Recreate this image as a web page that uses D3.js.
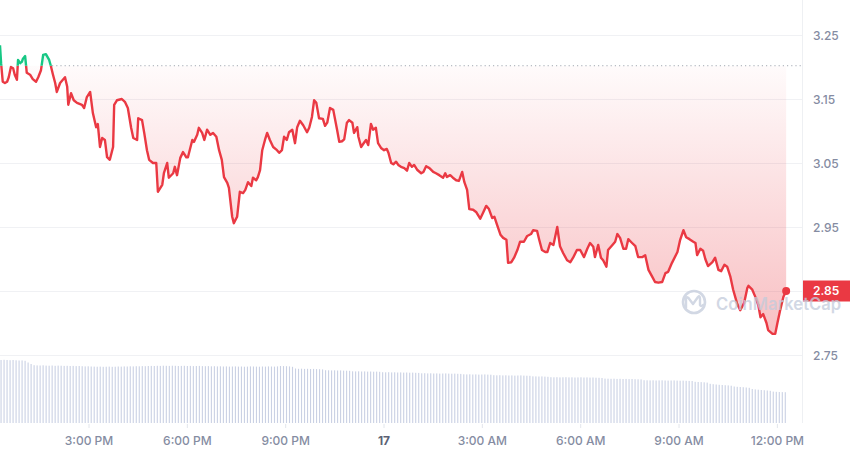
<!DOCTYPE html>
<html>
<head>
<meta charset="utf-8">
<script src="https://cdn.jsdelivr.net/npm/d3@7"></script>
<style>
  html, body { margin: 0; padding: 0; background: #fff; }
  svg { display: block; font-family: Inter, "Noto Sans", sans-serif; }
</style>
</head>
<body>
<svg id="chart" width="850" height="453"></svg>
<script>
// ---------------- DATA ----------------
// minutes since series start (16th, 12:18 PM)
const priceMinutes = [0,2,5,9,13,16,20,24,27,31,33,37,40,42,46,49,55,60,66,70,75,79,84,90,93,97,101,104,110,119,123,125,130,135,141,150,154,159,165,170,176,179,183,187,192,196,201,207,209,214,223,229,234,240,244,251,253,260,264,269,273,280,286,289,297,300,306,309,317,320,324,330,335,341,344,352,355,361,364,370,374,379,385,390,396,401,406,410,416,419,425,428,434,439,445,449,454,460,463,469,472,476,480,485,489,494,500,507,511,516,520,525,529,535,540,544,549,555,562,566,571,575,579,584,591,595,599,604,610,617,621,626,630,635,639,645,648,654,656,661,665,670,674,679,683,688,692,698,703,708,711,716,720,725,729,734,740,745,749,754,758,764,771,775,780,786,793,798,804,811,815,818,824,829,835,840,846,850,855,859,866,872,879,884,890,895,901,905,910,916,921,927,930,936,941,947,952,959,965,972,976,983,987,992,998,1002,1007,1013,1020,1025,1031,1038,1044,1049,1056,1062,1069,1075,1080,1086,1089,1095,1100,1104,1110,1113,1121,1126,1130,1135,1141,1146,1150,1157,1163,1168,1176,1181,1187,1194,1199,1205,1212,1218,1223,1230,1240,1245,1251,1256,1262,1269,1273,1276,1282,1287,1291,1296,1304,1309,1315,1320,1326,1331,1337,1342,1349,1355,1362,1368,1370,1377,1382,1388,1392,1397,1403,1406,1414,1419,1423,1428,1434,1439];
const prices = [3.234,3.206,3.177,3.175,3.177,3.184,3.200,3.198,3.188,3.180,3.211,3.206,3.208,3.213,3.217,3.191,3.188,3.181,3.177,3.184,3.195,3.219,3.220,3.211,3.202,3.188,3.175,3.161,3.175,3.184,3.169,3.141,3.159,3.148,3.144,3.141,3.136,3.153,3.161,3.128,3.106,3.111,3.075,3.089,3.086,3.059,3.055,3.075,3.141,3.148,3.150,3.145,3.136,3.105,3.089,3.086,3.120,3.117,3.097,3.070,3.055,3.050,3.050,3.005,3.016,3.034,3.050,3.027,3.034,3.044,3.031,3.058,3.067,3.059,3.059,3.086,3.083,3.094,3.105,3.097,3.086,3.102,3.094,3.097,3.091,3.070,3.055,3.028,3.019,3.011,2.966,2.956,2.966,3.005,3.003,3.008,3.020,3.014,3.027,3.023,3.028,3.039,3.070,3.086,3.097,3.086,3.075,3.070,3.066,3.070,3.091,3.086,3.098,3.102,3.081,3.106,3.116,3.109,3.098,3.105,3.122,3.148,3.144,3.120,3.119,3.108,3.113,3.136,3.133,3.102,3.083,3.084,3.087,3.113,3.117,3.113,3.097,3.106,3.091,3.075,3.080,3.086,3.078,3.111,3.102,3.105,3.081,3.073,3.070,3.072,3.066,3.050,3.048,3.052,3.047,3.044,3.042,3.038,3.050,3.044,3.047,3.039,3.034,3.036,3.045,3.042,3.036,3.034,3.031,3.027,3.034,3.028,3.031,3.027,3.023,3.022,3.036,3.020,3.008,2.978,2.977,2.973,2.963,2.972,2.983,2.978,2.964,2.966,2.953,2.938,2.933,2.930,2.894,2.895,2.902,2.914,2.927,2.927,2.936,2.939,2.945,2.944,2.930,2.914,2.911,2.911,2.925,2.922,2.950,2.920,2.909,2.898,2.895,2.902,2.914,2.914,2.903,2.916,2.925,2.919,2.903,2.922,2.902,2.898,2.888,2.914,2.922,2.927,2.939,2.933,2.916,2.916,2.931,2.925,2.920,2.903,2.903,2.906,2.883,2.872,2.864,2.863,2.864,2.878,2.880,2.894,2.911,2.930,2.945,2.934,2.931,2.927,2.925,2.906,2.916,2.913,2.900,2.889,2.895,2.902,2.883,2.881,2.891,2.888,2.872,2.852,2.831,2.820,2.831,2.855,2.858,2.852,2.842,2.828,2.809,2.814,2.800,2.789,2.783,2.783,2.800,2.820,2.841,2.850];
const referencePrice = 3.202;           // dotted open/baseline
const barMinutes = 5.5;                 // volume bar interval
const volumes = [6.3,6.32,6.3,6.28,6.3,6.27,6.25,6.26,6.22,6.05,5.9,
5.78,5.76,5.75,5.77,5.74,5.73,5.75,5.72,5.74,5.73,5.71,5.72,5.70,5.71,5.69,5.70,5.68,5.66,5.67,
5.65,5.64,5.63,5.64,5.62,5.63,5.64,5.62,5.63,5.65,5.64,5.66,5.65,5.67,5.66,5.68,5.67,5.69,5.68,5.70,
5.71,5.70,5.72,5.71,5.73,5.72,5.71,5.73,5.72,5.70,5.71,5.72,5.70,5.71,5.69,5.70,5.71,5.69,5.68,5.69,5.67,5.68,
5.66,5.67,5.65,5.66,5.64,5.65,5.66,5.64,5.65,5.63,5.64,5.66,5.65,5.64,5.63,5.65,5.64,5.66,5.65,5.64,5.66,5.70,5.69,5.68,5.66,5.62,
5.45,5.42,5.43,5.41,5.42,5.40,5.41,5.39,5.38,5.36,
5.28,5.27,5.26,5.27,5.25,5.26,5.24,5.23,5.22,
5.17,5.16,5.17,5.15,5.16,5.14,5.15,5.13,5.14,5.12,
5.08,5.07,5.08,5.06,5.07,5.05,5.06,5.04,5.05,5.03,5.04,5.02,5.01,
4.97,4.98,4.96,4.97,4.95,4.96,4.94,4.95,4.96,4.94,4.93,4.94,4.92,4.91,
4.87,4.86,4.87,4.85,4.86,4.84,4.85,4.86,4.84,4.83,
4.78,4.77,4.78,4.76,4.77,4.75,4.76,4.74,4.75,4.76,4.74,4.73,4.72,
4.67,4.66,4.65,4.66,4.64,4.62,
4.58,4.57,4.58,4.56,4.57,4.58,4.56,4.57,4.55,4.56,4.57,4.55,4.56,4.54,4.55,4.53,4.52,4.50,
4.44,4.43,4.42,4.43,4.41,4.42,4.40,4.41,4.39,4.40,4.38,4.37,4.36,
4.28,4.27,4.26,4.27,4.25,4.26,4.27,4.25,4.24,4.25,4.26,4.24,4.23,4.24,4.22,4.21,4.20,
4.12,4.10,4.09,4.07,4.04,
3.92,3.88,3.85,3.82,3.80,3.78,3.76,3.73,
3.65,3.62,3.60,3.58,3.55,3.52,
3.40,3.36,3.33,3.30,3.28,3.25,3.22,
3.14,3.12,3.10,3.09,3.08];
const yTickValues = [2.75, 2.85, 2.95, 3.05, 3.15, 3.25];

// ---------------- SETUP ----------------
const W = 850, H = 453;
const plotRight = 802, volBottom = 423;
const start = new Date(2024, 4, 16, 12, 18);
const minute = 60000;
const end = new Date(start.getTime() + 1468 * minute);

const x = d3.scaleTime().domain([start, end]).range([0, plotRight]);
const y = d3.scaleLinear().domain([2.75, 3.25]).range([355, 35]);
const yv = d3.scaleLinear().domain([0, 6.8]).range([volBottom, 355]);

const n = Math.min(priceMinutes.length, prices.length);
const data = d3.range(n).map(i => ({ t: new Date(start.getTime() + priceMinutes[i] * minute), v: prices[i] }));
const vol = volumes.map((v, i) => ({ t: new Date(start.getTime() + i * barMinutes * minute), v }));

const svg = d3.select("#chart");
const defs = svg.append("defs");

const RED = "#ea3943", GREEN = "#16c784";
const by = y(referencePrice);

// gradients
const minV = d3.min(data, d => d.v), maxV = d3.max(data, d => d.v);
const gR = defs.append("linearGradient").attr("id", "gRed")
  .attr("gradientUnits", "userSpaceOnUse").attr("x1", 0).attr("x2", 0)
  .attr("y1", by).attr("y2", y(minV));
gR.append("stop").attr("offset", 0).attr("stop-color", RED).attr("stop-opacity", 0.02);
gR.append("stop").attr("offset", 1).attr("stop-color", RED).attr("stop-opacity", 0.32);
const gG = defs.append("linearGradient").attr("id", "gGreen")
  .attr("gradientUnits", "userSpaceOnUse").attr("x1", 0).attr("x2", 0)
  .attr("y1", by).attr("y2", y(maxV));
gG.append("stop").attr("offset", 0).attr("stop-color", GREEN).attr("stop-opacity", 0.02);
gG.append("stop").attr("offset", 1).attr("stop-color", GREEN).attr("stop-opacity", 0.25);

defs.append("clipPath").attr("id", "below").append("rect")
  .attr("x", -10).attr("y", by).attr("width", W + 20).attr("height", H);
defs.append("clipPath").attr("id", "above").append("rect")
  .attr("x", -10).attr("y", -10).attr("width", W + 20).attr("height", by + 10);

// ---------------- GRID ----------------
svg.append("g").selectAll("line").data(yTickValues).join("line")
  .attr("x1", 0).attr("x2", plotRight)
  .attr("y1", d => Math.round(y(d)) + 0.5).attr("y2", d => Math.round(y(d)) + 0.5)
  .attr("stroke", "#f0f1f4").attr("stroke-width", 1);

svg.append("line")
  .attr("x1", plotRight + 0.5).attr("x2", plotRight + 0.5)
  .attr("y1", 0).attr("y2", volBottom)
  .attr("stroke", "#eef0f3");

// ---------------- VOLUME ----------------
svg.append("g").selectAll("rect").data(vol).join("rect")
  .attr("x", d => x(d.t) + 0.5)
  .attr("y", d => yv(d.v))
  .attr("width", 1.1)
  .attr("height", d => volBottom - yv(d.v))
  .attr("fill", "#cad1e4");

// ---------------- AREA + LINE ----------------
const area = d3.area().x(d => x(d.t)).y0(by).y1(d => y(d.v));
const line = d3.line().x(d => x(d.t)).y(d => y(d.v));

svg.append("path").datum(data).attr("d", area)
  .attr("fill", "url(#gRed)").attr("clip-path", "url(#below)");
svg.append("path").datum(data).attr("d", area)
  .attr("fill", "url(#gGreen)").attr("clip-path", "url(#above)");

// dotted reference line
svg.append("line")
  .attr("x1", 52).attr("x2", plotRight + 1)
  .attr("y1", by).attr("y2", by)
  .attr("stroke", "#a4a9b3").attr("stroke-width", 1)
  .attr("stroke-dasharray", "1.2,3");

svg.append("path").datum(data).attr("d", line)
  .attr("fill", "none").attr("stroke", RED).attr("stroke-width", 2.4)
  .attr("stroke-linejoin", "round").attr("clip-path", "url(#below)");
svg.append("path").datum(data).attr("d", line)
  .attr("fill", "none").attr("stroke", GREEN).attr("stroke-width", 2.4)
  .attr("stroke-linejoin", "round").attr("clip-path", "url(#above)");

const last = data[data.length - 1];
svg.append("circle").attr("cx", x(last.t)).attr("cy", y(last.v)).attr("r", 4).attr("fill", RED);

// ---------------- AXES ----------------
const yAxis = d3.axisRight(y).tickValues(yTickValues).tickSize(0).tickPadding(0)
  .tickFormat(d3.format(".2f"));
const gy = svg.append("g").attr("transform", `translate(813,0)`).call(yAxis);
gy.select(".domain").remove();
gy.selectAll("text").attr("fill", "#858ca2").attr("font-size", 12).attr("font-weight", 500)
  .attr("font-family", "Inter, sans-serif").attr("dy", "0.35em").attr("x", 0);

const fmtTime = d3.timeFormat("%-I:%M %p");
const fmtDay = d3.timeFormat("%-d");
const xTicks = x.ticks(d3.timeHour.every(3)).filter(d => x(d) > 20 && x(d) < plotRight);
const xAxis = d3.axisBottom(x).tickValues(xTicks).tickSize(4).tickPadding(8)
  .tickFormat(d => d.getHours() === 0 ? fmtDay(d) : fmtTime(d));
const gx = svg.append("g").attr("transform", `translate(0,${volBottom + 1})`).call(xAxis);
gx.select(".domain").remove();
gx.selectAll(".tick line").attr("stroke", "#e3e6ec");
gx.selectAll("text").attr("fill", "#858ca2").attr("font-size", 12).attr("font-weight", 500)
  .attr("font-family", "Inter, sans-serif")
  .filter(d => d.getHours() === 0).attr("font-weight", 700).attr("fill", "#5c6275");

// current price label
const ly = y(last.v);
svg.append("rect").attr("x", 803).attr("y", ly - 10.5).attr("width", 47).attr("height", 21).attr("fill", RED);
svg.append("text").attr("x", 813).attr("y", ly).attr("dy", "0.35em")
  .attr("fill", "#fff").attr("font-size", 12).attr("font-weight", 600)
  .text(d3.format(".2f")(last.v));

// ---------------- WATERMARK ----------------
const wm = svg.append("g").attr("opacity", 0.75);
wm.append("circle").attr("cx", 694).attr("cy", 302).attr("r", 11)
  .attr("fill", "none").attr("stroke", "#c3cbdb").attr("stroke-width", 2.6);
wm.append("path")
  .attr("d", "M686,308 L686,299 Q686,296 688.5,298 L693,304 L698,297 Q700,295 700,299 L700,305 Q701,307 703,305")
  .attr("fill", "none").attr("stroke", "#c3cbdb").attr("stroke-width", 2.4)
  .attr("stroke-linecap", "round").attr("stroke-linejoin", "round");
wm.append("text").attr("x", 716).attr("y", 310)
  .attr("font-size", 17).attr("font-weight", 600).attr("fill", "#c3cbdb")
  .attr("textLength", 125).attr("lengthAdjust", "spacingAndGlyphs")
  .text("CoinMarketCap");
</script>
</body>
</html>
